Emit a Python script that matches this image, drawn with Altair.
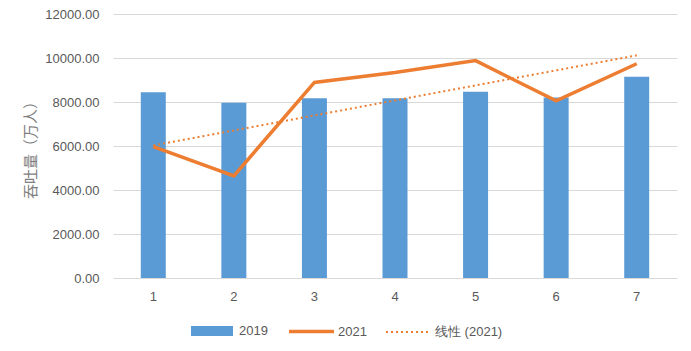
import altair as alt
import pandas as pd

categories = [1, 2, 3, 4, 5, 6, 7]
values_2019 = [8440, 7970, 8170, 8170, 8470, 8210, 9150]
values_2021 = [5970, 4640, 8890, 9340, 9880, 8050, 9740]
y_ticks = [0, 2000, 4000, 6000, 8000, 10000, 12000]
series_names = ["2019", "2021", "线性 (2021)"]

BLUE = "#5B9BD5"
ORANGE = "#ED7D31"
TXT = "#595959"
FONT = "Liberation Sans"

df = pd.DataFrame({"x": categories, "v2019": values_2019, "v2021": values_2021})

x_enc = alt.X(
    "x:O",
    scale=alt.Scale(paddingInner=0, paddingOuter=0),
    axis=alt.Axis(labelAngle=0, ticks=False, domain=False, grid=False, title=None,
                  labelPadding=12, labelFontSize=13, labelColor=TXT, labelFont=FONT),
)
y_scale = alt.Scale(domain=[0, 12000], nice=False)
y_axis = alt.Axis(values=y_ticks, format=".2f", title="吞吐量（万人）", ticks=False, tickSize=0,
                  domain=False, grid=True, gridColor="#D9D9D9", gridWidth=1,
                  labelPadding=14, labelFontSize=13, labelColor=TXT, labelFont=FONT,
                  titleFont="Noto Sans CJK SC", titleFontSize=15, titleFontWeight="normal",
                  titleColor="#7F7F7F", titlePadding=6)

legend_common = dict(orient="none", title=None, labelFontSize=13, labelColor=TXT,
                     labelFont=FONT, padding=0)

bars = alt.Chart(df).transform_calculate(s="'2019'").mark_bar(size=25, color=BLUE).encode(
    x=x_enc,
    y=alt.Y("v2019:Q", scale=y_scale, axis=y_axis),
    fill=alt.Fill("s:N", scale=alt.Scale(domain=[series_names[0]], range=[BLUE]),
                  legend=alt.Legend(legendX=78, legendY=296,
                                    symbolType="M-1,-0.24L1,-0.24L1,0.24L-1,0.24Z",
                                    symbolSize=1764, symbolStrokeWidth=0, labelOffset=6,
                                    **legend_common)),
)

line = alt.Chart(df).transform_calculate(s="'2021'").mark_line(strokeWidth=3.5, strokeJoin="miter").encode(
    x=x_enc,
    y=alt.Y("v2021:Q", scale=y_scale, axis=y_axis),
    stroke=alt.Stroke("s:N", scale=alt.Scale(domain=[series_names[1]], range=[ORANGE]),
                      legend=alt.Legend(legendX=174, legendY=293, symbolType="stroke",
                                        symbolSize=2025, symbolStrokeWidth=3.5, labelOffset=2,
                                        **legend_common)),
)

trend = (
    alt.Chart(df)
    .transform_regression("x", "v2021")
    .transform_calculate(s="'线性 (2021)'")
    .mark_line(strokeWidth=2, color=ORANGE)
    .encode(
        x=x_enc,
        y=alt.Y("v2021:Q", scale=y_scale, axis=y_axis),
        strokeDash=alt.StrokeDash("s:N", scale=alt.Scale(domain=[series_names[2]], range=[[2, 3]]),
                                  legend=alt.Legend(legendX=272, legendY=296, symbolType="stroke",
                                                    symbolSize=1764, symbolStrokeWidth=2,
                                                    symbolStrokeColor=ORANGE, labelOffset=6,
                                                    **legend_common)),
    )
)

chart = (
    alt.layer(bars, trend, line)
    .properties(width=564, height=264, autosize="none",
                padding={"left": 113, "top": 14, "right": 14, "bottom": 73}, background="white")
    .configure_view(stroke=None)
)

chart.save("out.html", embed_options={"renderer": "svg", "actions": False})
